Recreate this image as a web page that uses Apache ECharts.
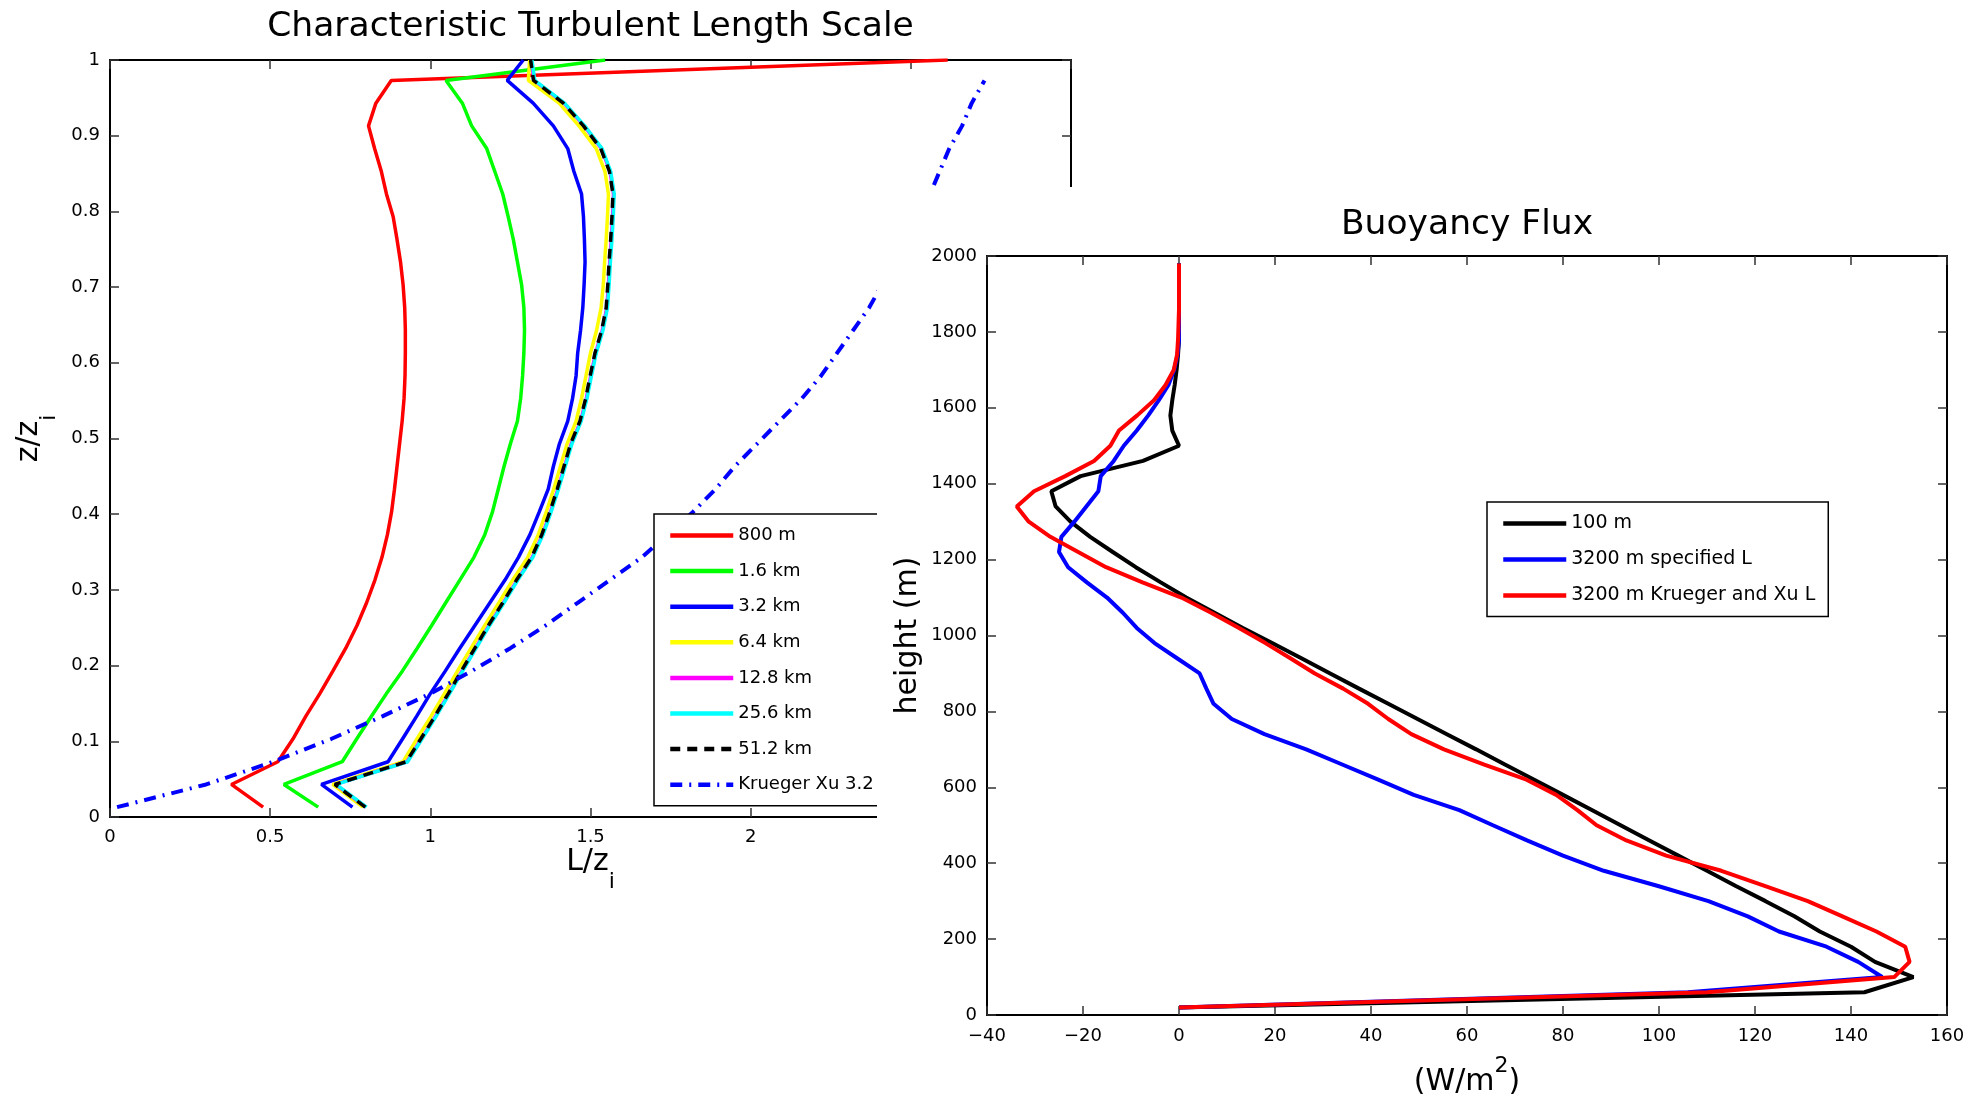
<!DOCTYPE html>
<html lang="en">
<head>
    <meta charset="UTF-8">
    <title>Turbulent Length Scale / Buoyancy Flux</title>
    <style>
        body { margin: 0; background: #fff; overflow: hidden; }
        #leftChart { position: absolute; left: 0; top: 0; width: 1988px; height: 1096px; }
        #rightChart { position: absolute; left: 877px; top: 187px; width: 1111px; height: 909px; background: #fff; }
    </style>
    <script src="https://cdn.jsdelivr.net/npm/echarts@6/dist/echarts.min.js"></script>
</head>
<body>
    <div id="leftChart"></div>
    <div id="rightChart"></div>
    <script>
        // left panel: z/zi levels and L/zi for each run
        var zLevels = [0.013, 0.043, 0.073, 0.103, 0.133, 0.163, 0.193, 0.223, 0.253, 0.283, 0.313, 0.343,
            0.373, 0.403, 0.433, 0.463, 0.493, 0.523, 0.553, 0.583, 0.613, 0.643, 0.673, 0.703,
            0.733, 0.763, 0.793, 0.823, 0.853, 0.883, 0.913, 0.943, 0.973, 1.0];
        var len800 = [0.478, 0.379, 0.524, 0.571, 0.611, 0.655, 0.696, 0.736, 0.771, 0.801, 0.827, 0.849,
            0.866, 0.879, 0.888, 0.896, 0.904, 0.912, 0.918, 0.921, 0.922, 0.922, 0.920, 0.915,
            0.907, 0.896, 0.884, 0.863, 0.847, 0.826, 0.807, 0.830, 0.878, 2.615];
        var len1600 = [0.650, 0.543, 0.725, 0.770, 0.816, 0.863, 0.913, 0.959, 1.004, 1.048, 1.092, 1.136,
            1.170, 1.194, 1.212, 1.230, 1.250, 1.272, 1.282, 1.288, 1.292, 1.294, 1.292, 1.285,
            1.272, 1.259, 1.243, 1.226, 1.201, 1.176, 1.129, 1.100, 1.049, 1.546];
        var len3200 = [0.757, 0.660, 0.868, 0.913, 0.957, 1.000, 1.047, 1.092, 1.139, 1.186, 1.233, 1.275,
            1.311, 1.340, 1.368, 1.384, 1.403, 1.429, 1.444, 1.455, 1.460, 1.469, 1.476, 1.480,
            1.483, 1.481, 1.478, 1.472, 1.448, 1.429, 1.384, 1.321, 1.240, 1.290];
        var len6400 = [0.790, 0.695, 0.915, 0.958, 1.002, 1.044, 1.085, 1.127, 1.170, 1.214, 1.257, 1.304,
            1.337, 1.362, 1.385, 1.406, 1.427, 1.455, 1.472, 1.486, 1.500, 1.519, 1.533, 1.540,
            1.544, 1.549, 1.553, 1.556, 1.545, 1.518, 1.464, 1.402, 1.306, 1.310];
        var len12800 = [0.799, 0.704, 0.927, 0.972, 1.016, 1.058, 1.099, 1.141, 1.183, 1.228, 1.271, 1.318,
            1.350, 1.375, 1.398, 1.419, 1.440, 1.469, 1.487, 1.501, 1.516, 1.537, 1.551, 1.556,
            1.560, 1.565, 1.569, 1.572, 1.561, 1.534, 1.480, 1.417, 1.324, 1.315];
        var len25600 = [0.801, 0.706, 0.929, 0.974, 1.018, 1.060, 1.101, 1.143, 1.185, 1.230, 1.273, 1.320,
            1.352, 1.377, 1.400, 1.421, 1.442, 1.471, 1.489, 1.503, 1.518, 1.539, 1.553, 1.558,
            1.562, 1.567, 1.571, 1.574, 1.563, 1.536, 1.482, 1.419, 1.326, 1.317];
        var len51200 = [0.797, 0.702, 0.925, 0.970, 1.014, 1.056, 1.097, 1.139, 1.181, 1.226, 1.269, 1.316,
            1.348, 1.373, 1.396, 1.417, 1.438, 1.467, 1.485, 1.499, 1.514, 1.535, 1.549, 1.554,
            1.558, 1.563, 1.567, 1.570, 1.559, 1.532, 1.478, 1.415, 1.322, 1.313];
        var lenKrueger = [0.022, 0.30, 0.51, 0.69, 0.85, 1.00, 1.13, 1.25, 1.36, 1.46, 1.56, 1.66,
            1.74, 1.82, 1.89, 1.95, 2.02, 2.09, 2.16, 2.22, 2.27, 2.32, 2.37, 2.41,
            2.46, 2.50, 2.53, 2.56, 2.59, 2.62, 2.66, 2.69, 2.73];

        // right panel: height (m) and buoyancy flux (W/m2)
        var heights = [20, 60, 100, 140, 180, 220, 260, 300, 340, 380, 420, 460, 500, 540, 580, 620, 660,
            700, 740, 780, 820, 860, 900, 940, 980, 1020, 1060, 1100, 1140, 1180, 1220, 1260, 1300,
            1340, 1380, 1420, 1460, 1500, 1540, 1580, 1620, 1660, 1700, 1740, 1780, 1820, 1860, 1900,
            1940, 1980];
        var flux100 = [0, 142.8, 153, 145, 140, 133.5, 128.2, 122.2, 116, 110, 104, 98, 92, 86, 80, 74, 67.9,
            61.9, 55.8, 49.7, 43.6, 37.5, 31.5, 25.5, 19.4, 13.3, 7.4, 1.5, -3.8, -9, -13.8, -18.5, -22.6,
            -25.7, -26.6, -20.5, -7.5, 0, -1.4, -1.8, -1.4, -0.9, -0.5, -0.2, 0, 0, 0, 0,
            0, 0];
        var fluxSpecified = [0, 106, 146.5, 141.5, 134.9, 125, 118.5, 110.3, 99.8, 88.5, 80, 72.5, 65.4, 58.4, 48.9, 41.5, 34,
            26.5, 17.8, 11, 7.2, 5.7, 4.3, -0.4, -5.1, -8.8, -11.7, -15, -19.2, -23.1, -25, -24.5, -21.8,
            -19.3, -16.8, -16.3, -13.6, -11.5, -8.8, -6.4, -4.2, -2.2, -1, -0.3, 0, 0, 0, 0,
            0, 0];
        var fluxKrueger = [0, 110, 149, 152.2, 151.3, 145.3, 138.2, 131, 122, 113, 101.5, 93.2, 87, 83, 78.6, 72.4, 63.6,
            55.2, 48.4, 43.6, 39.4, 34.2, 28.3, 23.2, 18, 12.5, 6.7, 0.5, -7.6, -15.2, -21, -26.8, -31.3,
            -33.8, -30.2, -23.7, -17.7, -14.3, -12.5, -8.7, -5.2, -2.8, -1.1, -0.4, -0.2, -0.1, 0, 0,
            0, 0];

        var fontFamily = '"DejaVu Sans", sans-serif';

        function pairs(xs, ys) {
            return xs.map(function (x, i) { return [x, ys[i]]; });
        }

        function boxAxis(min, max, interval, position, showLabel, labelMargin) {
            return {
                type: 'value',
                min: min,
                max: max,
                interval: interval,
                position: position,
                nameMoveOverlap: false,
                axisLine: { show: true, onZero: false, lineStyle: { color: '#000', width: 2 } },
                axisTick: { show: true, inside: true, length: 9, lineStyle: { color: '#333', width: 1.5 } },
                axisLabel: {
                    show: showLabel, color: '#000', fontSize: 18, fontFamily: fontFamily, margin: labelMargin || 10,
                    formatter: function (v) { return String(v).replace('-', '\u2212'); }
                },
                splitLine: { show: false }
            };
        }

        var subRich = {
            m: { fontSize: 30, fontFamily: fontFamily, color: '#000', lineHeight: 30, verticalAlign: 'top' },
            s: { fontSize: 22, fontFamily: fontFamily, color: '#000', lineHeight: 46, verticalAlign: 'bottom' }
        };

        // hide the marker ECharts puts on line legend icons
        var noMarker = { color: 'rgba(0,0,0,0)', borderColor: 'rgba(0,0,0,0)', borderWidth: 0 };

        // ---- left chart ----
        var leftChart = echarts.init(document.getElementById('leftChart'));

        var lx0 = boxAxis(0, 3, 0.5, 'bottom', true, 11);
        lx0.name = '{m|L/z}{s|i}';
        lx0.nameLocation = 'middle';
        lx0.nameGap = 30;
        lx0.nameTextStyle = { rich: subRich };
        var lx1 = boxAxis(0, 3, 0.5, 'top', false);
        lx1.name = 'Characteristic Turbulent Length Scale';
        lx1.nameLocation = 'middle';
        lx1.nameGap = 15;
        lx1.nameTextStyle = { fontSize: 34.5, fontFamily: fontFamily, color: '#000' };
        var ly0 = boxAxis(0, 1, 0.1, 'left', true);
        ly0.name = '{m|z/z}{s|i}';
        ly0.nameLocation = 'middle';
        ly0.nameGap = 50;
        ly0.nameTextStyle = { rich: subRich };
        var ly1 = boxAxis(0, 1, 0.1, 'right', false);

        function lenSeries(name, xs, color, width, type) {
            return {
                name: name,
                type: 'line',
                xAxisIndex: 0,
                yAxisIndex: 0,
                symbol: 'none',
                data: pairs(xs, zLevels),
                lineStyle: { color: color, width: width, type: type || 'solid' },
                itemStyle: { color: color }
            };
        }

        leftChart.setOption({
            animation: false,
            backgroundColor: '#fff',
            grid: { left: 110, top: 60, width: 961, height: 757, outerBoundsMode: 'none', containLabel: false },
            xAxis: [lx0, lx1],
            yAxis: [ly0, ly1],
            legend: {
                orient: 'vertical',
                left: 654,
                top: 514,
                padding: [11.5, 14, 11, 14],
                itemGap: 15.6,
                itemWidth: 63,
                itemHeight: 20,
                backgroundColor: '#fff',
                borderColor: '#000',
                borderWidth: 1.5,
                borderRadius: 0,
                itemStyle: noMarker,
                lineStyle: { width: 4.5 },
                textStyle: { fontSize: 18, fontFamily: fontFamily, color: '#000', lineHeight: 20 },
                data: ['800 m', '1.6 km', '3.2 km', '6.4 km', '12.8 km', '25.6 km', '51.2 km', 'Krueger Xu 3.2 km']
            },
            series: [
                lenSeries('800 m', len800, '#ff0000', 3.5),
                lenSeries('1.6 km', len1600, '#00ff00', 3.5),
                lenSeries('3.2 km', len3200, '#0000ff', 3.5),
                lenSeries('6.4 km', len6400, '#ffff00', 3.5),
                lenSeries('12.8 km', len12800, '#ff00ff', 3.5),
                lenSeries('25.6 km', len25600, '#00ffff', 3.5),
                lenSeries('51.2 km', len51200, '#000000', 3.5, [10, 7]),
                lenSeries('Krueger Xu 3.2 km', lenKrueger, '#0000ff', 4, [12, 7, 2, 7])
            ]
        });

        // ---- right chart ----
        var rightChart = echarts.init(document.getElementById('rightChart'));

        var rx0 = boxAxis(-40, 160, 20, 'bottom', true, 12);
        rx0.name = '{m|(W/m}{s|2}{m|)}';
        rx0.nameLocation = 'middle';
        rx0.nameGap = 40;
        rx0.nameTextStyle = {
            rich: {
                m: { fontSize: 30, fontFamily: fontFamily, color: '#000', lineHeight: 42, verticalAlign: 'bottom' },
                s: { fontSize: 22, fontFamily: fontFamily, color: '#000', lineHeight: 18, verticalAlign: 'top' }
            }
        };
        var rx1 = boxAxis(-40, 160, 20, 'top', false);
        rx1.name = 'Buoyancy Flux';
        rx1.nameLocation = 'middle';
        rx1.nameGap = 13.5;
        rx1.nameTextStyle = { fontSize: 34.5, fontFamily: fontFamily, color: '#000' };
        var ry0 = boxAxis(0, 2000, 200, 'left', true);
        ry0.name = 'height (m)';
        ry0.nameLocation = 'middle';
        ry0.nameGap = 64;
        ry0.nameTextStyle = { fontSize: 30, fontFamily: fontFamily, color: '#000' };
        var ry1 = boxAxis(0, 2000, 200, 'right', false);

        function fluxSeries(name, xs, color) {
            return {
                name: name,
                type: 'line',
                xAxisIndex: 0,
                yAxisIndex: 0,
                symbol: 'none',
                data: pairs(xs, heights),
                lineStyle: { color: color, width: 4 },
                itemStyle: { color: color }
            };
        }

        rightChart.setOption({
            animation: false,
            backgroundColor: '#fff',
            grid: { left: 110, top: 69, width: 960, height: 759, outerBoundsMode: 'none', containLabel: false },
            xAxis: [rx0, rx1],
            yAxis: [ry0, ry1],
            legend: {
                orient: 'vertical',
                left: 610,
                top: 315,
                padding: [11.5, 13, 11, 14],
                itemGap: 16,
                itemWidth: 63,
                itemHeight: 20,
                backgroundColor: '#fff',
                borderColor: '#000',
                borderWidth: 1.5,
                borderRadius: 0,
                itemStyle: noMarker,
                lineStyle: { width: 4.5 },
                textStyle: { fontSize: 19, fontFamily: fontFamily, color: '#000', lineHeight: 20 },
                data: ['100 m', '3200 m specified L', '3200 m Krueger and Xu L']
            },
            series: [
                fluxSeries('100 m', flux100, '#000000'),
                fluxSeries('3200 m specified L', fluxSpecified, '#0000ff'),
                fluxSeries('3200 m Krueger and Xu L', fluxKrueger, '#ff0000')
            ]
        });
    </script>
</body>
</html>
